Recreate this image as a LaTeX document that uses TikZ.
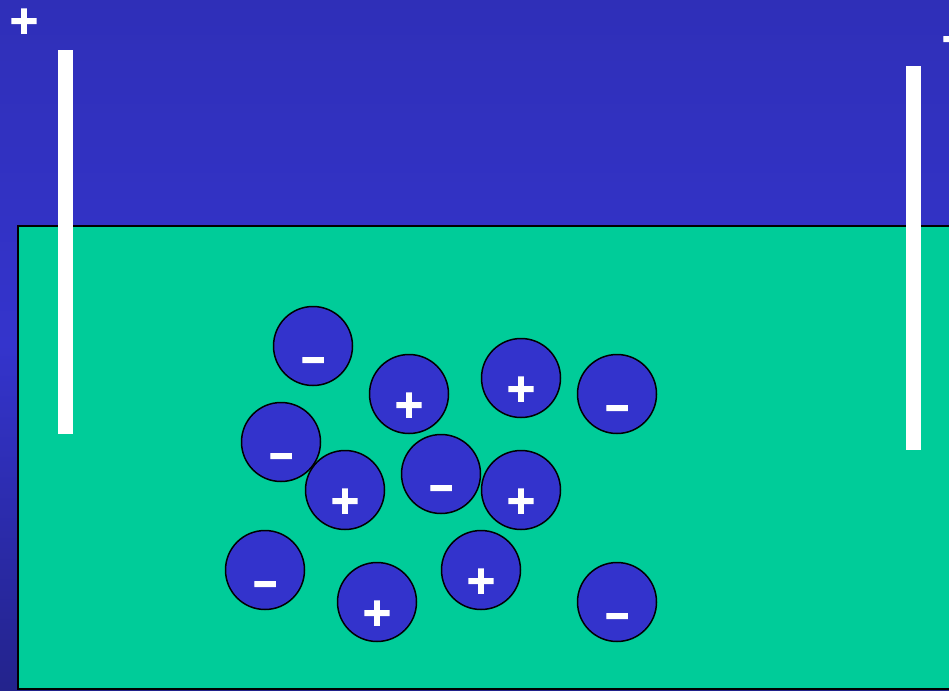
\documentclass[tikz,border=0pt]{standalone}
\usepackage{fontspec}
\usepackage{graphicx}
\newfontfamily\signfont[FakeBold=4]{DejaVu Sans Bold}
\definecolor{ionblue}{HTML}{3333CC}
\definecolor{water}{HTML}{00CC99}
\definecolor{bgtop}{HTML}{2F2FB8}
\definecolor{bgmid}{HTML}{3434CC}
\definecolor{bgbot}{HTML}{23238C}
\newcommand{\negsign}{\scalebox{0.85}[1]{−}}
\tikzset{
  ion/.style={circle, draw=black, line width=1.5pt, fill=ionblue, minimum size=79pt, inner sep=0pt},
  sign/.style={text=white, font=\signfont\fontsize{38}{38}\selectfont, inner sep=0pt, anchor=base},
  electrode/.style={fill=white, draw=none},
}
\begin{document}
\begin{tikzpicture}[x=1pt,y=-1pt]
\useasboundingbox (0,0) rectangle (949,690);
\shade[top color=bgtop, bottom color=bgmid] (0,0) rectangle (949,345);
\shade[top color=bgmid, bottom color=bgbot] (0,345) rectangle (949,690);
% tank of water
\draw[fill=water, draw=black, line width=1.2pt] (18,226) rectangle (952,689);
% electrodes
\fill[electrode] (58,50) rectangle (73,434);
\fill[electrode] (906,66) rectangle (921,450);
% electrode signs
\node[sign] (pluslabel) at (24,33) {+};
\node[sign] (minuslabel) at (954,51) {\negsign};
% ions
\foreach \n/\x/\y/\s in {
  a/313/346/-, b/409/394/+, c/521/378/+, d/617/394/-,
  e/281/442/-, f/345/490/+, g/441/474/-, h/521/490/+,
  i/265/570/-, j/377/602/+, k/481/570/+, l/617/602/-}{
  \node[ion] (ion\n) at (\x,\y) {};
  \if\s+
    \node[sign] (sign\n) at (\x,\y+23) {+};
  \else
    \node[sign] (sign\n) at (\x,\y+26) {\negsign};
  \fi
}
\end{tikzpicture}
\end{document}
